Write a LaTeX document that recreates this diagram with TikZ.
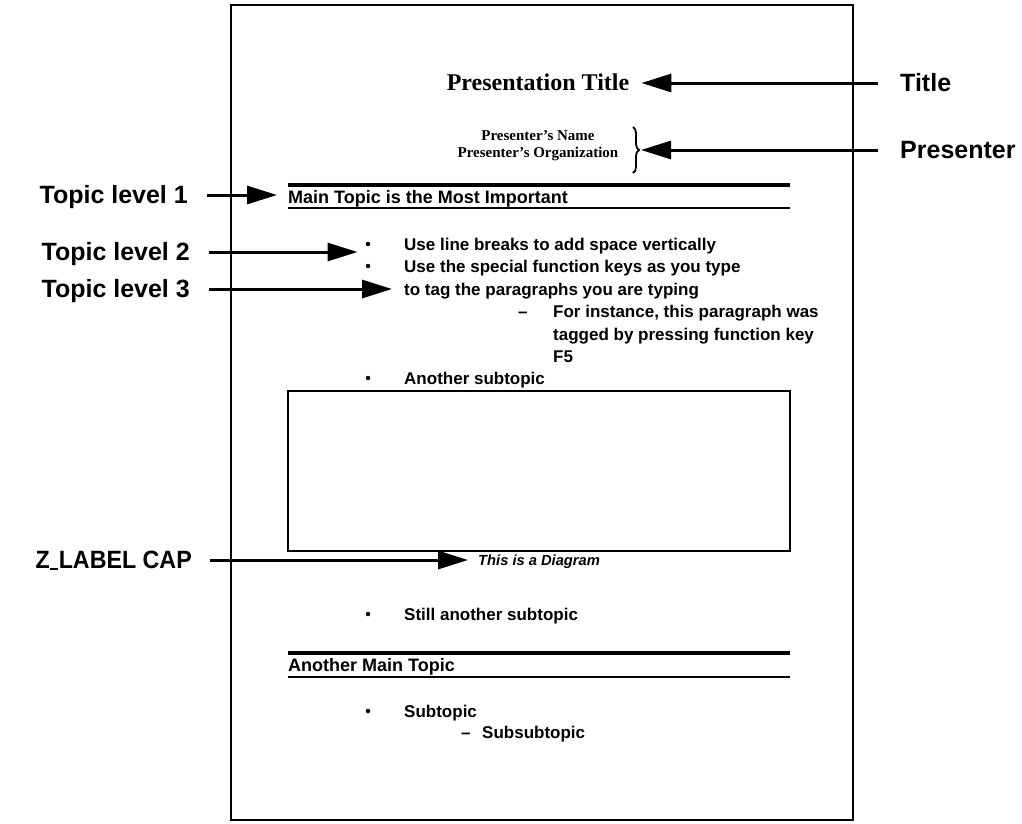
\documentclass[tikz,border=0pt]{standalone}
\usepackage{graphicx}
\usepackage{fontspec}
\setmainfont{Liberation Serif}
\setsansfont{Liberation Sans}
\usetikzlibrary{arrows.meta,decorations.pathreplacing}

\begin{document}
\begin{tikzpicture}[x=1pt,y=-1pt,
  txt/.style={inner sep=0pt, anchor=west, text depth=0pt},
  side/.style={txt, text height=17.9pt, font=\sffamily\bfseries\fontsize{25}{29}\selectfont},
  body/.style={txt, text height=12.2pt, font=\sffamily\bfseries\fontsize{17}{20}\selectfont},
  head/.style={txt, text height=12.9pt, font=\sffamily\bfseries\fontsize{18}{21}\selectfont},
  capfont/.style={txt, text height=10.5pt, font=\sffamily\bfseries\itshape\fontsize{14.7}{17}\selectfont},
  titlefont/.style={txt, anchor=center, text height=15.9pt, font=\rmfamily\bfseries\fontsize{24}{28}\selectfont},
  namefont/.style={txt, anchor=center, text height=9.9pt, font=\rmfamily\bfseries\fontsize{15}{18}\selectfont},
  pointer/.style={line width=3pt, -{Triangle[length=30pt,width=18pt]}},
  dot/.style={circle, fill, inner sep=0pt, minimum size=4.5pt},
  heavyrule/.style={line width=3.5pt},
  lightrule/.style={line width=1.3pt},
  pagebox/.style={line width=2.5pt},
]
\useasboundingbox (0,0) rectangle (1022,823);

% the page
\draw[pagebox] (231,5) rectangle (853,820);

% title block
\node[titlefont] (ptitle) at (538,83) {Presentation Title};
\node[namefont] (pname) at (538,136) {Presenter’s Name};
\node[namefont] (porg) at (538,153) {Presenter’s Organization};
\coordinate (brtop) at (633,127);
\coordinate (brbot) at (633,173);
\coordinate (brtip) at (641,150);
\draw[decorate, decoration={brace, amplitude=6pt}, line width=1.8pt] (brtop) -- (brbot);

% labels on the right
\node[side] (ltitle) at (900,83) {Title};
\node[side] (lpres) at (900,150) {Presenter};
\draw[pointer, shorten <=22pt, shorten >=12pt] (ltitle.west) -- (ptitle.east);
\draw[pointer, shorten <=22pt] (lpres.west) -- (brtip);

% first main topic
\draw[heavyrule] (288,185) -- (790,185);
\node[head] (mt1) at (288,197) {Main Topic is the Most Important};
\draw[lightrule] (288,208) -- (790,208);

% subtopics
\node[dot] (b1) at (368,244) {};
\node[body] (t1) at (404,244) {Use line breaks to add space vertically};
\node[dot] (b2) at (368,266) {};
\node[body] (t2) at (404,266) {Use the special function keys as you type};
\node[body] (t3) at (404,289) {to tag the paragraphs you are typing};
\node[body] (d1) at (518,311) {–};
\node[body] (t4) at (553,311) {For instance, this paragraph was};
\node[body] (t5) at (553,334) {tagged by pressing function key};
\node[body] (t6) at (553,356) {F5};
\node[dot] (b3) at (368,378) {};
\node[body] (t7) at (404,378) {Another subtopic};

% diagram frame and caption
\draw[lightrule] (288,391) rectangle (790,551);
\node[capfont] (cap) at (478,560) {This is a Diagram};

\node[dot] (b4) at (368,614) {};
\node[body] (t8) at (404,614) {Still another subtopic};

% second main topic
\draw[heavyrule] (288,653) -- (790,653);
\node[head] (mt2) at (288,665) {Another Main Topic};
\draw[lightrule] (288,677) -- (790,677);
\node[dot] (b5) at (368,711) {};
\node[body] (t9) at (404,711) {Subtopic};
\node[body] (d2) at (461,732) {–};
\node[body] (t10) at (482,732) {Subsubtopic};

% labels on the left
\node[side, anchor=east] (l1) at (188,195) {Topic level 1};
\node[side, anchor=east] (l2) at (190,252) {Topic level 2};
\node[side, anchor=east] (l3) at (190,289) {Topic level 3};
\node[side, anchor=east] (lcap) at (192,560)
  {\scalebox{0.93}[1]{Z\kern0.5pt\rule[-1.5pt]{8pt}{2.2pt}\kern1pt LABEL CAP}};
\draw[pointer, shorten <=19pt, shorten >=11pt] (l1.east) -- (l1.east -| mt1.west);
\draw[pointer, shorten <=19pt, shorten >=8pt] (l2.east) -- (l2.east -| b1.west);
\draw[pointer, shorten <=19pt, shorten >=12pt] (l3.east) -- (l3.east -| t3.west);
\draw[pointer, shorten <=18pt, shorten >=10pt] (lcap.east) -- (lcap.east -| cap.west);
\end{tikzpicture}
\end{document}
